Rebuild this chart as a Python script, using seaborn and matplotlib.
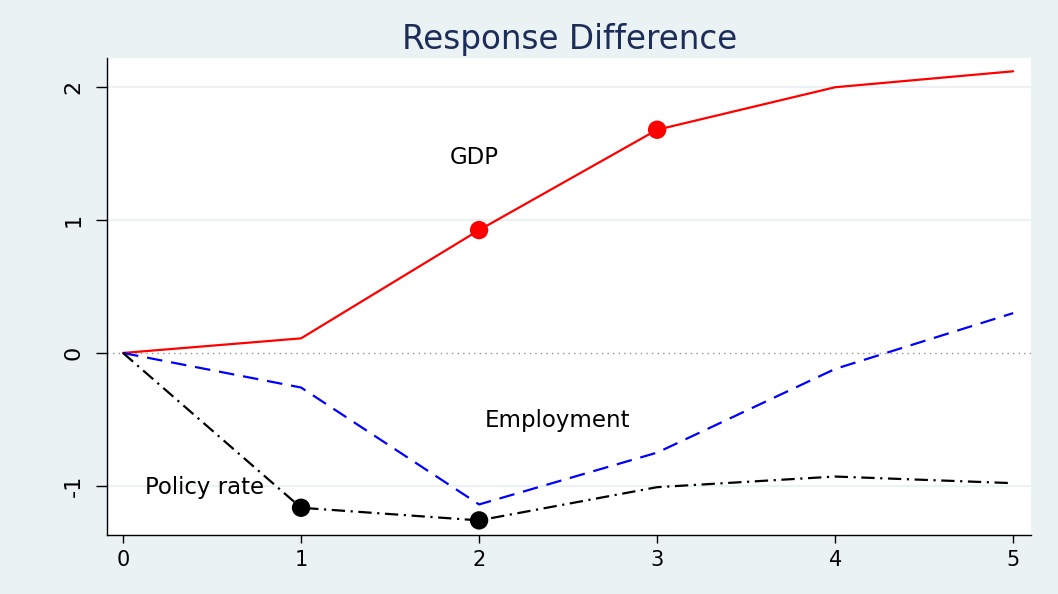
import numpy as np
import pandas as pd
import matplotlib
matplotlib.use("Agg")
import matplotlib.pyplot as plt
import seaborn as sns

# values
horizon = [0, 1, 2, 3, 4, 5]
gdp = [0.0, 0.11, 0.925, 1.68, 2.0, 2.12]
employment = [0.0, -0.26, -1.14, -0.75, -0.12, 0.30]
policy_rate = [0.0, -1.165, -1.26, -1.01, -0.93, -0.98]
gdp_sig = [2, 3]
policy_sig = [1, 2]

bg = "#eaf2f3"
sns.set_theme(style="white")
plt.rcParams["font.family"] = ["DejaVu Sans"]

df = pd.DataFrame({"h": horizon, "GDP": gdp, "Employment": employment,
                   "Policy rate": policy_rate})

fig = plt.figure(figsize=(10.58, 5.94), dpi=100, facecolor=bg)
ax = fig.add_axes([107 / 1058, 1 - 535 / 594, (1031 - 107) / 1058, (535 - 58) / 594])
ax.set_facecolor("white")

for yv in [-1, 1, 2]:
    ax.axhline(yv, color=bg, lw=1.5, zorder=0)
ax.axhline(0, color="#909090", lw=1.0, ls=(0, (1, 3)), zorder=0)

sns.lineplot(data=df, x="h", y="GDP", color="red", lw=1.6, ax=ax)
sns.lineplot(data=df, x="h", y="Employment", color="blue", lw=1.6, ax=ax,
             linestyle=(0, (7, 4)))
sns.lineplot(data=df, x="h", y="Policy rate", color="black", lw=1.6, ax=ax,
             linestyle=(0, (6, 2.5, 1, 2.5)))

sig1 = df[df["h"].isin(gdp_sig)]
sig2 = df[df["h"].isin(policy_sig)]
sns.scatterplot(data=sig1, x="h", y="GDP", color="red", s=175, edgecolor="none", ax=ax, zorder=5)
sns.scatterplot(data=sig2, x="h", y="Policy rate", color="black", s=175, edgecolor="none", ax=ax, zorder=5)

ax.text(1.97, 1.47, "GDP", ha="center", va="center", fontsize=16.5, color="black")
ax.text(2.44, -0.51, "Employment", ha="center", va="center", fontsize=16.5, color="black")
ax.text(0.46, -1.015, "Policy rate", ha="center", va="center", fontsize=16.5, color="black")

ax.set_xlim(-0.09, 5.1)
ax.set_ylim(-1.37, 2.22)
ax.set_xticks(horizon)
ax.set_yticks([-1, 0, 1, 2])
ax.set_yticklabels(["-1", "0", "1", "2"], rotation=90, va="center")
ax.set_xlabel("")
ax.set_ylabel("")
ax.tick_params(axis="x", direction="out", length=6, width=1, color="black",
               labelsize=15, labelcolor="black", bottom=True, pad=5)
ax.tick_params(axis="y", direction="out", length=8, width=1, color="black",
               labelsize=16, labelcolor="black", left=True, pad=9)
for side in ["top", "right"]:
    ax.spines[side].set_visible(False)
for side in ["left", "bottom"]:
    ax.spines[side].set_color("black")
    ax.spines[side].set_linewidth(1)

fig.text(570 / 1058, 1 - 39 / 594, "Response Difference", ha="center", va="center",
         fontsize=23.5, color="#1c2d5a")

fig.savefig("out.png", dpi=100, facecolor=bg)
